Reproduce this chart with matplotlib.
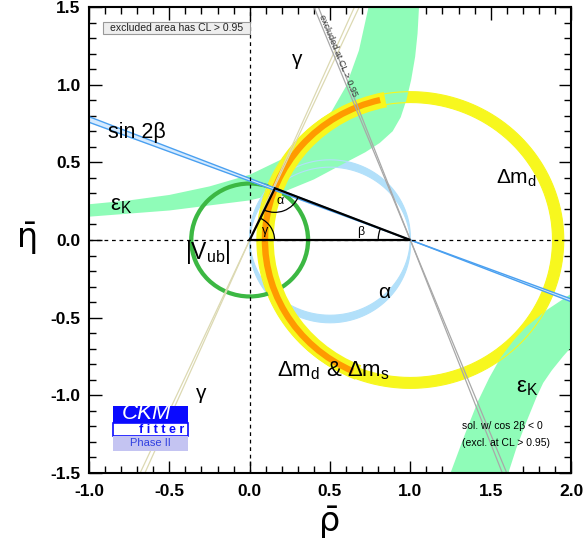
import numpy as np
import matplotlib.pyplot as plt
from matplotlib.patches import Wedge, Arc, Rectangle, Polygon, PathPatch
from matplotlib.path import Path
from matplotlib.ticker import MultipleLocator

plt.rcParams['font.family'] = ['Liberation Sans', 'DejaVu Sans']
plt.rcParams['mathtext.fontset'] = 'custom'
plt.rcParams['mathtext.rm'] = 'Liberation Sans'
plt.rcParams['mathtext.it'] = 'Liberation Sans:italic'
plt.rcParams['mathtext.bf'] = 'Liberation Sans:bold'

# apex of the unitarity triangle
rho_apex = 0.157
eta_apex = 0.333

# eps_K band, upper branch (upper edge / lower edge)
epsk1_a_rho = [-1.0, -0.75, -0.5, -0.25, 0.0, 0.2, 0.4, 0.5, 0.6, 0.68, 0.74]
epsk1_a_eta = [0.23, 0.255, 0.29, 0.345, 0.42, 0.52, 0.68, 0.81, 0.99, 1.22, 1.5]
epsk1_b_rho = [-1.0, -0.5, 0.0, 0.2, 0.4, 0.6, 0.72, 0.81, 0.89, 0.94, 0.975, 1.005,
               1.03, 1.045, 1.054]
epsk1_b_eta = [0.15, 0.19, 0.255, 0.305, 0.39, 0.50, 0.565, 0.625, 0.70, 0.79, 0.90, 1.03,
               1.18, 1.33, 1.5]

# eps_K band, lower branch (left edge / right edge)
epsk2_a_rho = [1.25, 1.34, 1.42, 1.49, 1.56, 1.64, 1.72, 1.85, 2.01]
epsk2_a_eta = [-1.5, -1.25, -1.04, -0.89, -0.76, -0.65, -0.56, -0.45, -0.34]
epsk2_b_rho = [2.01, 1.95, 1.88, 1.827, 1.786, 1.715, 1.66, 1.61]
epsk2_b_eta = [-0.68, -0.75, -0.84, -0.92, -1.01, -1.19, -1.34, -1.5]

# delta m_d ring (centre on rho axis, inner/outer radius)
dmd_center = 1.0
dmd_radii = [0.885, 0.955]

# delta m_d & delta m_s band
dms_center = 1.02
dms_outer = [0.87, 0.97]
dms_core = [0.905, 0.945]
dms_angles = [101, 248]

# |Vub| ring
vub_radii = [0.35, 0.377]

# alpha: circles through (0,0) and (1,0), centre heights
alpha_k = [0.016, -0.032]

# slopes of the straight constraints
sin2b_slopes = [-0.379, -0.397]
excl_slopes = [-2.50, -2.62]
gamma_slopes = [2.2, 2.3]

c_yellow = '#f7f71e'
c_orange = '#ff9a00'
c_green = '#8ffcb8'
c_vub = '#3cb843'
c_alpha = '#b2e0fa'
c_blue = '#4aa0f0'
c_gamma = '#dcd9b2'
c_gray = '#a8a8a8'

fig = plt.figure(figsize=(5.87, 5.44), dpi=100)
ax = fig.add_axes([89/587, 71/544, 482/587, 466/544])
ax.set_xlim(-1, 2)
ax.set_ylim(-1.5, 1.5)

t = np.linspace(0, 2*np.pi, 721)

# alpha crescents
verts, codes = [], []
for i, k in enumerate(alpha_k):
    R = np.hypot(0.5, k)
    tt = t if i == 0 else t[::-1]
    v = np.column_stack([0.5 + R*np.cos(tt), k + R*np.sin(tt)])
    c = np.full(len(v), Path.LINETO)
    c[0] = Path.MOVETO
    verts.append(v)
    codes.append(c)
ax.add_patch(PathPatch(Path(np.vstack(verts), np.concatenate(codes)),
                       fc=c_alpha, ec='none', zorder=1))

# delta m_d ring
ax.add_patch(Wedge((dmd_center, 0), dmd_radii[1], 0, 360,
                   width=dmd_radii[1]-dmd_radii[0], fc=c_yellow, ec='none', zorder=2))

# eps_K bands
up = list(zip(epsk1_a_rho, epsk1_a_eta)) + list(zip(epsk1_b_rho, epsk1_b_eta))[::-1]
ax.add_patch(Polygon(up, closed=True, fc=c_green, ec='none', zorder=3))
lo = list(zip(epsk2_a_rho, epsk2_a_eta)) + list(zip(epsk2_b_rho, epsk2_b_eta))
ax.add_patch(Polygon(lo, closed=True, fc=c_green, ec='none', zorder=3))

# contour lines drawn over the fills
for k in alpha_k:
    R = np.hypot(0.5, k)
    ax.plot(0.5 + R*np.cos(t), k + R*np.sin(t), color=c_alpha, lw=0.8, zorder=4)
for r in dmd_radii:
    ax.plot(dmd_center + r*np.cos(t), r*np.sin(t), color=c_yellow, lw=0.8, zorder=4)

# |Vub|
ax.add_patch(Wedge((0, 0), vub_radii[1], 0, 360, width=vub_radii[1]-vub_radii[0],
                   fc=c_vub, ec='none', zorder=5))

# delta m_d & delta m_s
ax.add_patch(Wedge((dms_center, 0), dms_outer[1], dms_angles[0], dms_angles[1],
                   width=dms_outer[1]-dms_outer[0], fc=c_yellow, ec='none', zorder=6))
ax.add_patch(Wedge((dms_center, 0), dms_core[1], dms_angles[0]+2, dms_angles[1]-2,
                   width=dms_core[1]-dms_core[0], fc=c_orange, ec='none', zorder=6))

# gamma
for s in gamma_slopes:
    ax.plot([-1.5/s, 1.5/s], [-1.5, 1.5], color=c_gamma, lw=0.9, zorder=7)

# sin 2beta
xx = np.array([-1.0, 2.0])
ax.fill_between(xx, sin2b_slopes[0]*(xx-1), sin2b_slopes[1]*(xx-1),
                color='#d6ebff', lw=0, zorder=7)
for s in sin2b_slopes:
    ax.plot(xx, s*(xx-1), color=c_blue, lw=1.0, zorder=7)

# excluded cos 2beta < 0 solution
yy = np.array([-1.5, 1.5])
for s in excl_slopes:
    ax.plot(1 + yy/s, yy, color=c_gray, lw=0.9, zorder=7)
ax.text(0.548, 1.19, 'excluded at CL > 0.95', rotation=-67.5, fontsize=6.5,
        color='#333333', ha='center', va='center', zorder=8)

# axes through origin
ax.axhline(0, color='k', lw=0.9, ls=(0, (3, 3)), zorder=8)
ax.axvline(0, color='k', lw=0.9, ls=(0, (3, 3)), zorder=8)

# unitarity triangle
ax.plot([0, 1, rho_apex, 0], [0, 0, eta_apex, 0], color='k', lw=1.6, zorder=9,
        solid_joinstyle='miter')
ang_g = np.degrees(np.arctan2(eta_apex, rho_apex))
ang_b = np.degrees(np.arctan2(eta_apex, 1 - rho_apex))
ax.add_patch(Arc((0, 0), 0.31, 0.31, theta1=0, theta2=ang_g, color='k', lw=0.9, zorder=9))
ax.add_patch(Arc((1, 0), 0.40, 0.40, theta1=180-ang_b, theta2=180, color='k', lw=0.9, zorder=9))
ax.add_patch(Arc((rho_apex, eta_apex), 0.31, 0.31, theta1=180+ang_g, theta2=360-ang_b,
                 color='k', lw=0.9, zorder=9))
ax.text(0.19, 0.25, 'α', fontsize=9, ha='center', va='center', zorder=10)
ax.text(0.095, 0.055, 'γ', fontsize=9, ha='center', va='center', zorder=10)
ax.text(0.69, 0.05, 'β', fontsize=9, ha='center', va='center', zorder=10)

# constraint labels
ax.text(0.296, 1.16, 'γ', fontsize=15, ha='center', va='center', zorder=10)
ax.text(-0.30, -0.99, 'γ', fontsize=15, ha='center', va='center', zorder=10)
ax.text(-0.70, 0.69, 'sin 2β', fontsize=15.5, ha='center', va='center', zorder=10)
ax.text(-0.80, 0.22, 'ε$_\\mathrm{K}$', fontsize=16, ha='center', va='center', zorder=10)
ax.text(1.73, -0.95, 'ε$_\\mathrm{K}$', fontsize=16, ha='center', va='center', zorder=10)
ax.text(1.66, 0.40, 'Δm$_\\mathrm{d}$', fontsize=15, ha='center', va='center', zorder=10)
ax.text(0.84, -0.335, 'α', fontsize=15, ha='center', va='center', zorder=10)
ax.text(-0.26, -0.08, '|V$_\\mathrm{ub}$|', fontsize=16.5, ha='center', va='center', zorder=10)
ax.text(0.52, -0.84, 'Δm$_\\mathrm{d}$ & Δm$_\\mathrm{s}$', fontsize=16, ha='center',
        va='center', zorder=10)
ax.text(1.32, -1.20, 'sol. w/ cos 2β < 0', fontsize=7.5, ha='left', va='center', zorder=10)
ax.text(1.32, -1.31, '(excl. at CL > 0.95)', fontsize=7.5, ha='left', va='center', zorder=10)

# excluded area box
ax.add_patch(Rectangle((-0.913, 1.326), 0.913, 0.078, fc='#eeeeee', ec='#999999',
                       lw=0.8, zorder=10))
ax.text(-0.456, 1.365, 'excluded area has CL > 0.95', fontsize=7.5, color='#222222',
        ha='center', va='center', zorder=11)

# CKMfitter logo
ax.add_patch(Rectangle((-0.85, -1.178), 0.467, 0.109, fc='#0a0aff', ec='none', zorder=10))
ax.add_patch(Rectangle((-0.85, -1.262), 0.467, 0.084, fc='white', ec='#0a0aff', lw=1.2, zorder=10))
ax.add_patch(Rectangle((-0.85, -1.359), 0.467, 0.094, fc='#c4c4f2', ec='none', zorder=10))
ax.text(-0.64, -1.118, 'CKM', fontsize=16, style='italic', color='white',
        ha='center', va='center', zorder=11)
ax.text(-0.55, -1.222, 'f i t t e r', fontsize=9, fontweight='bold', color='#0a0aff',
        ha='center', va='center', zorder=11)
ax.text(-0.62, -1.31, 'Phase II', fontsize=8, color='#3040e0',
        ha='center', va='center', zorder=11)

# axes styling
ax.xaxis.set_major_locator(MultipleLocator(0.5))
ax.xaxis.set_minor_locator(MultipleLocator(0.1))
ax.yaxis.set_major_locator(MultipleLocator(0.5))
ax.yaxis.set_minor_locator(MultipleLocator(0.1))
ax.tick_params(which='both', direction='in', top=True, right=True, width=1.0)
ax.tick_params(which='major', length=9, labelsize=12.5)
ax.tick_params(which='minor', length=5)
ax.tick_params(axis='x', pad=8)
ax.tick_params(axis='y', pad=6)
ax.xaxis.set_major_formatter(plt.FormatStrFormatter('%.1f'))
ax.yaxis.set_major_formatter(plt.FormatStrFormatter('%.1f'))
for lab in ax.get_xticklabels() + ax.get_yticklabels():
    lab.set_fontweight('bold')
for sp in ax.spines.values():
    sp.set_linewidth(1.5)
    sp.set_zorder(12)

fig.text(330/587, 1 - 521/544, 'ρ\u0304', fontsize=24, ha='center', va='center',
         family='DejaVu Sans')
fig.text(28/587, 1 - 238/544, 'η\u0304', fontsize=24, ha='center', va='center',
         family='DejaVu Sans')

fig.savefig('out.png', dpi=100)
